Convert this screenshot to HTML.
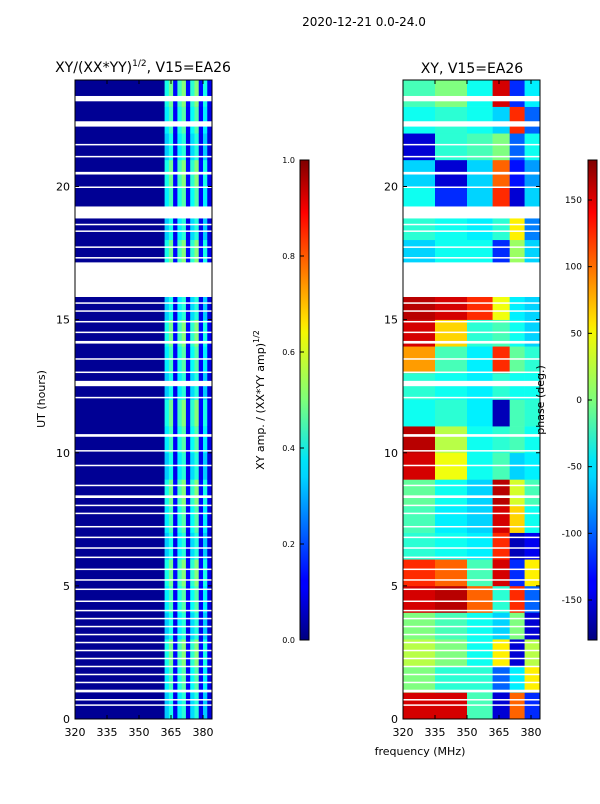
<!DOCTYPE html>
<html><head><meta charset="utf-8"><style>
body{margin:0;background:#fff;width:600px;height:800px;overflow:hidden;font-family:"DejaVu Sans",sans-serif}
svg text{font-family:"DejaVu Sans","Liberation Sans",sans-serif}
</style></head><body>
<svg id="c" width="600" height="800" xmlns="http://www.w3.org/2000/svg">
<defs>
<linearGradient id="jet" x1="0" y1="1" x2="0" y2="0">
<stop offset="0" stop-color="#00007f"/><stop offset="0.11" stop-color="#0000ff"/><stop offset="0.125" stop-color="#0000ff"/>
<stop offset="0.34" stop-color="#00d4ff"/><stop offset="0.375" stop-color="#00e5f7"/><stop offset="0.5" stop-color="#7dff7a"/>
<stop offset="0.64" stop-color="#f4f802"/><stop offset="0.66" stop-color="#ffe600"/><stop offset="0.89" stop-color="#ff0000"/><stop offset="1" stop-color="#7f0000"/>
</linearGradient>
</defs>
<text x="364" y="26" font-size="12" text-anchor="middle">2020-12-21 0.0-24.0</text>
<text x="143" y="72" font-size="14" text-anchor="middle">XY/(XX*YY)<tspan font-size="9" dy="-6">1/2</tspan><tspan dy="6">, V15=EA26</tspan></text>
<text x="472" y="73" font-size="14" text-anchor="middle">XY, V15=EA26</text>
<g id="L"></g><g id="R"></g>
<rect x="300" y="160" width="9" height="480" fill="url(#jet)" stroke="#000" stroke-width="1"/>
<rect x="588" y="160" width="9" height="480" fill="url(#jet)" stroke="#000" stroke-width="1"/>
<text transform="translate(264,400) rotate(-90)" font-size="11" text-anchor="middle">XY amp. / (XX*YY amp)<tspan font-size="8" dy="-5">1/2</tspan></text>
<text transform="translate(544,400) rotate(-90)" font-size="11" text-anchor="middle">phase (deg.)</text>
<text x="45" y="399" font-size="11" text-anchor="middle" transform="rotate(-90,45,399)">UT (hours)</text>
<text x="420" y="755" font-size="11" text-anchor="middle">frequency (MHz)</text>
<g id="CB"></g>
</svg>
<script>
const hourTicks=[0,5,10,15,20];
const freqTicks=[320,335,350,365,380];
const ampTicks=[0.0,0.2,0.4,0.6,0.8,1.0];
const phaseTicks=[-150,-100,-50,0,50,100,150];
// flagged (blank) intervals in hours
const gaps=[[23.2,23.4],[22.25,22.45],[21.55,21.6],[21.1,21.15],[20.45,20.55],[19.95,20.0],[18.8,19.25],[18.55,18.6],[18.3,18.35],[17.7,17.75],[17.3,17.35],[15.85,17.15],[15.6,15.65],[15.3,15.35],[14.9,14.95],[14.5,14.55],[14.1,14.2],[13.5,13.55],[13.0,13.05],[12.5,12.7],[12.05,12.1],[10.6,10.7],[10.05,10.1],[9.5,9.55],[8.75,8.8],[8.3,8.4],[8.0,8.05],[7.7,7.75],[7.2,7.25],[6.8,6.85],[6.4,6.45],[6.05,6.1],[5.6,5.65],[5.2,5.25],[4.85,4.9],[4.4,4.45],[4.05,4.1],[3.75,3.8],[3.45,3.5],[3.15,3.2],[2.85,2.9],[2.55,2.6],[2.25,2.3],[1.95,2.0],[1.65,1.7],[1.35,1.4],[1.0,1.1],[0.7,0.75],[0.5,0.55]];
// left panel: amplitude per 2 MHz column, 362-384 MHz (below 362 ≈ 0.02)
const ampFreqs=[362,364,366,368,370,372,374,376,378,380,382];
const ampValues=[0.36,0.44,0.12,0.4,0.46,0.12,0.38,0.46,0.12,0.36,0.1];
// right panel: phase (deg) per hour row, columns by frequency band
const phaseEdges=[320,335,350,362,370,377,384];
const phaseRows=[
[150,150,-20,-150,100,-120],[0,-30,-30,-100,-50,50],[20,0,-40,50,-150,20],[0,-20,-40,-60,0,-150],
[150,160,100,-30,120,-100],[120,100,-20,150,-120,50],[-30,-40,-50,120,-160,-140],[-20,-50,-60,150,60,-40],
[-10,-40,-60,160,30,-20],[150,40,-40,-20,-60,-50],[160,20,-40,-30,-20,-40],[-40,-30,-50,-160,-20,-30],
[-30,-40,-50,-30,-40,-40],[80,-20,-50,120,-10,-30],[150,60,-30,-20,-40,-60],[160,150,120,40,-50,-60],
[-40,-40,-40,-40,-40,-40],[-60,-40,-40,-120,10,-60],[-30,-40,-50,-30,50,-90],[-40,-120,-60,120,-150,-60],
[-60,-150,-60,100,-130,-80],[-150,-30,-20,0,-100,-40],[-40,-30,-40,-60,120,-100],[-20,0,-40,150,-120,-50]];
const NS="http://www.w3.org/2000/svg";
function el(t,a,p){const e=document.createElementNS(NS,t);for(const k in a)e.setAttribute(k,a[k]);p.appendChild(e);return e;}
function jet(v){v=Math.max(0,Math.min(1,v));const f=x=>Math.round(255*Math.max(0,Math.min(1,x)));
return `rgb(${f(1.5-Math.abs(4*v-3))},${f(1.5-Math.abs(4*v-2))},${f(1.5-Math.abs(4*v-1))})`;}
const Y=h=>719-h*(639/24);
function Xl(f){return 75+(f-320)*(128/60);}
function Xr(f){return 403+(f-320)*(128/60);}
const L=document.getElementById('L'),R=document.getElementById('R'),CB=document.getElementById('CB');
let r=el('rect',{x:75,y:80,width:137,height:639,fill:jet(0.02)},L);

ampFreqs.forEach((f,i)=>{for(let h=0;h<24;h++){const c=el('rect',{x:Xl(f),y:Y(h+1),width:Xl(f+2)-Xl(f)+0.3,height:Y(h)-Y(h+1)+0.3,fill:jet(ampValues[i]*(0.9+0.2*((h%3)/2)))},L);
}});
phaseRows.forEach((row,h)=>{row.forEach((v,j)=>{const c=el('rect',{x:Xr(phaseEdges[j]),y:Y(h+1),width:Xr(phaseEdges[j+1])-Xr(phaseEdges[j])+0.3,height:Y(h)-Y(h+1)+0.3,fill:jet((v+180)/360)},R);
});});
[[L,Xl],[R,Xr]].forEach(([g,X])=>{
gaps.forEach(([a,b])=>{const c=el('rect',{x:X(320),y:Y(b),width:137,height:Math.max(1.5,Y(a)-Y(b)),fill:'#fff'},g);
});
const fr=el('rect',{x:X(320),y:80,width:137,height:639,fill:'none',stroke:'#000','stroke-width':1},g);

hourTicks.forEach(h=>{el('line',{x1:X(320),x2:X(320)+4,y1:Y(h),y2:Y(h),stroke:'#000'},g);el('line',{x1:X(320)+137,x2:X(320)+133,y1:Y(h),y2:Y(h),stroke:'#000'},g);
const t=el('text',{x:X(320)-5,y:Y(h)+4,'font-size':11,'text-anchor':'end'},g);t.textContent=h;
});
freqTicks.forEach(f=>{el('line',{x1:X(f),x2:X(f),y1:719,y2:715,stroke:'#000'},g);el('line',{x1:X(f),x2:X(f),y1:80,y2:84,stroke:'#000'},g);
const t=el('text',{x:X(f),y:736,'font-size':11,'text-anchor':'middle'},g);t.textContent=f;
});
});
ampTicks.forEach(v=>{const y=640-v*480;el('line',{x1:300,x2:304,y1:y,y2:y,stroke:'#000'},CB);
const t=el('text',{x:295,y:y+3,'font-size':8,'text-anchor':'end'},CB);t.textContent=v.toFixed(1);
});
phaseTicks.forEach(v=>{const y=640-(v+180)/360*480;el('line',{x1:588,x2:592,y1:y,y2:y,stroke:'#000'},CB);
const t=el('text',{x:582,y:y+3,'font-size':9,'text-anchor':'end'},CB);t.textContent=v;
});
</script>
</body></html>
